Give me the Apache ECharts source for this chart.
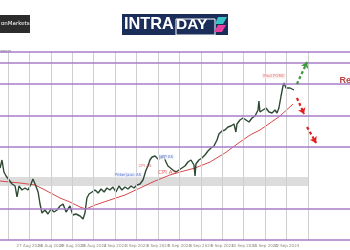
<!DOCTYPE html>
<html>
<head>
<meta charset="utf-8">
<script src="https://cdn.jsdelivr.net/npm/echarts@6/dist/echarts.min.js"></script>
<style>html,body{margin:0;padding:0;background:#fff}#c{width:350px;height:250px}</style>
</head>
<body>
<div id="c"></div>
<script>
// ---- data (time in trading days from first gridline, price) ----
const dateLabels = ['26 Aug 2024','27 Aug 2024','28 Aug 2024','29 Aug 2024','30 Aug 2024','2 Sep 2024','3 Sep 2024','4 Sep 2024','5 Sep 2024','6 Sep 2024','9 Sep 2024','10 Sep 2024','11 Sep 2024','12 Sep 2024','13 Sep 2024'];
const dayTicks = [0,1,2,3,4,5,6,7,8,9,10,11,12,13,14];
const priceTimes = [-0.37,-0.28,-0.19,-0.09,0.05,0.19,0.33,0.42,0.51,0.65,0.79,0.93,1.07,1.16,1.26,1.40,1.49,1.58,1.72,1.86,2.00,2.14,2.28,2.42,2.56,2.70,2.88,3.02,3.16,3.35,3.49,3.58,3.67,3.77,3.91,4.05,4.19,4.33,4.47,4.60,4.74,4.88,5.02,5.16,5.30,5.44,5.58,5.72,5.86,6.00,6.14,6.28,6.42,6.51,6.60,6.70,6.84,6.98,7.12,7.26,7.35,7.44,7.53,7.67,7.81,7.95,8.09,8.23,8.37,8.51,8.65,8.70,8.74,8.88,9.02,9.16,9.30,9.44,9.58,9.72,9.81,9.95,10.09,10.23,10.37,10.51,10.60,10.65,10.79,10.93,11.07,11.21,11.35,11.49,11.63,11.67,11.72,11.86,12.00,12.14,12.28,12.42,12.51,12.60,12.70,12.79,12.84,12.93,13.02,13.12,13.21,13.30];
const priceValues = [2532,2540,2528,2524,2520,2516,2514,2503,2514,2510,2512,2510,2516,2521,2516,2508,2496,2487,2490,2486,2491,2488,2490,2494,2496,2488,2494,2485,2486,2484,2481,2487,2502,2506,2508,2510,2507,2511,2508,2512,2510,2513,2508,2514,2510,2513,2511,2514,2512,2515,2516,2520,2530,2534,2540,2543,2544,2541,2542,2543,2538,2534,2536,2530,2528,2530,2532,2534,2538,2540,2535,2524,2536,2540,2542,2545,2549,2552,2554,2560,2566,2569,2570,2573,2574,2576,2568,2576,2580,2582,2580,2578,2582,2584,2590,2599,2588,2590,2592,2588,2587,2590,2587,2592,2604,2614,2617,2612,2614,2612,2611,2610];
const maTimes = [-0.37,0.09,0.56,1.26,1.72,2.42,2.88,3.35,3.63,4.05,4.74,5.44,6.14,6.84,7.53,8.00,8.70,9.40,10.09,10.79,11.26,11.72,12.19,12.65,13.26];
const maValues = [2519,2518,2517,2515,2510,2502,2498,2493,2491,2495,2500,2505,2512,2519,2525,2528,2532,2538,2547,2558,2565,2570,2577,2584,2596];
const levelValues = [2648,2637,2616,2584,2553,2491,2460];
const bandRange = [2514,2523];
const bandEnd = 14;
const arrows = [
  {from:[13.44,2616], to:[13.91,2638], color:'#3a9a3a'},
  {from:[13.44,2602], to:[13.77,2586], color:'#e02020'},
  {from:[13.91,2573], to:[14.33,2557], color:'#e02020'}
];
const notes = [
  {text:'Mod FOMC', t:12.37, p:2624, color:'#e06060', bg:'#fbe9e9', size:4},
  {text:'NFP AS', t:7.35, p:2543, color:'#3c5cc0', bg:'#eef0fa', size:4},
  {text:'CPI AS', t:6.37, p:2534, color:'#e04848', bg:'rgba(0,0,0,0)', size:4},
  {text:'Pekerjaan AS', t:5.58, p:2525, color:'#3c5cc0', bg:'#eef0fa', size:4},
  {text:'CPI AS', t:7.40, p:2527, color:'#e03030', bg:'rgba(0,0,0,0)', size:5.5}
];
const xMin = -0.372, xMax = 15.907;

const chart = echarts.init(document.getElementById('c'), null, {renderer:'canvas'});
chart.setOption({
  animation:false,
  backgroundColor:'#ffffff',
  grid:[
    {left:0, right:0, top:52, bottom:10},
    {left:8, width:300, top:52, bottom:10}
  ],
  xAxis:[
    {type:'value', gridIndex:0, min:xMin, max:xMax, show:false},
    {type:'value', gridIndex:1, min:0, max:14, interval:1,
     axisLine:{show:false}, axisTick:{show:false}, splitLine:{show:false},
     axisLabel:{fontSize:4, color:'#8a8a8a', margin:4, fontFamily:'DejaVu Sans',
       formatter:v=>dateLabels[Math.round(v)]||''}}
  ],
  yAxis:[
    {type:'value', gridIndex:0, min:2460, max:2648, show:false},
    {type:'value', gridIndex:1, min:0, max:1, show:false}
  ],
  graphic:[
    {type:'rect', left:0, top:15, shape:{width:30, height:18}, style:{fill:'#2c2c2c'}},
    {type:'text', left:1, top:21, style:{text:'onMarkets', fill:'#ffffff', font:'5.5px "DejaVu Sans"'}},
    {type:'rect', left:122, top:14, shape:{width:106, height:21}, style:{fill:'#1b2e5a'}},
    {type:'text', left:124, top:16.5, style:{text:'INTRA', fill:'#ffffff', font:'bold 16.3px "Liberation Sans"'}},
    {type:'rect', left:173.5, top:16.5, shape:{width:39, height:16}, style:{fill:'none', stroke:'#ffffff', lineWidth:1}},
    {type:'text', left:176, top:17, style:{text:'DAY', fill:'#ffffff', font:'bold 15.5px "Liberation Sans"'}},
    {type:'polygon', shape:{points:[[218,17],[227,17],[223,24],[215,24]]}, style:{fill:'#38c2c6'}},
    {type:'polygon', shape:{points:[[218,25],[226,25],[222,32],[214,32]]}, style:{fill:'#e8409e'}},
    {type:'rect', left:0, top:50, shape:{width:9, height:3}, style:{fill:'#e4e4e4'}},
    {type:'text', left:0.5, top:50, style:{text:'2648.00', fill:'#777', font:'2.6px "DejaVu Sans"'}}
  ],
  series:[
    {type:'line', name:'grid', xAxisIndex:1, yAxisIndex:1, data:[], silent:true, z:0,
     markLine:{silent:true, symbol:'none', label:{show:false},
       lineStyle:{color:'#cfcfcf', width:1, type:'solid'},
       data:dayTicks.map(d=>({xAxis:d}))}},
    {type:'line', name:'levels', xAxisIndex:0, yAxisIndex:0, data:[], z:1, silent:true,
     markLine:{silent:true, symbol:'none', label:{show:false},
       lineStyle:{color:'#a67cc9', width:1.5, type:'solid'},
       data:levelValues.map(v=>({yAxis:v}))},
     markArea:{silent:true, itemStyle:{color:'rgba(205,205,205,0.7)'},
       data:[[{coord:[xMin,bandRange[1]]},{coord:[bandEnd,bandRange[0]]}]]}
    },
    {type:'line', name:'MA', xAxisIndex:0, yAxisIndex:0, z:3, showSymbol:false, silent:true,
     lineStyle:{color:'#d84848', width:1}, data:maTimes.map((t,i)=>[t,maValues[i]])},
    {type:'line', name:'Harga', xAxisIndex:0, yAxisIndex:0, z:4, showSymbol:false, silent:true,
     lineStyle:{color:'#2e4a34', width:1.4}, data:priceTimes.map((t,i)=>[t,priceValues[i]])},
    {type:'line', name:'arrows', xAxisIndex:0, yAxisIndex:0, data:[], z:5, silent:true,
     markLine:{silent:true, symbol:['none','arrow'], symbolSize:6, label:{show:false},
       data:arrows.map(a=>[{coord:a.from, lineStyle:{color:a.color, width:2.2, type:[3,2.5]}, itemStyle:{color:a.color}},{coord:a.to}])}
    },
    {type:'scatter', name:'notes', xAxisIndex:0, yAxisIndex:0, z:6, silent:true,
     symbolSize:1, itemStyle:{color:'rgba(0,0,0,0)'},
     data:notes.map(n=>({value:[n.t,n.p], label:{show:true, position:'inside', formatter:n.text,
       color:n.color, fontSize:n.size, fontFamily:'DejaVu Sans', backgroundColor:n.bg, padding:[0.5,1]}}))},
    {type:'scatter', name:'resist', xAxisIndex:0, yAxisIndex:0, z:6, silent:true, symbolSize:1,
     itemStyle:{color:'rgba(0,0,0,0)'},
     data:[{value:[15.40,2619], label:{show:true, position:'right', distance:0, formatter:'Resistance',
       color:'#a81010', fontSize:9, fontWeight:'bold', fontFamily:'Liberation Sans'}}]}
  ]
});
</script>
</body>
</html>
